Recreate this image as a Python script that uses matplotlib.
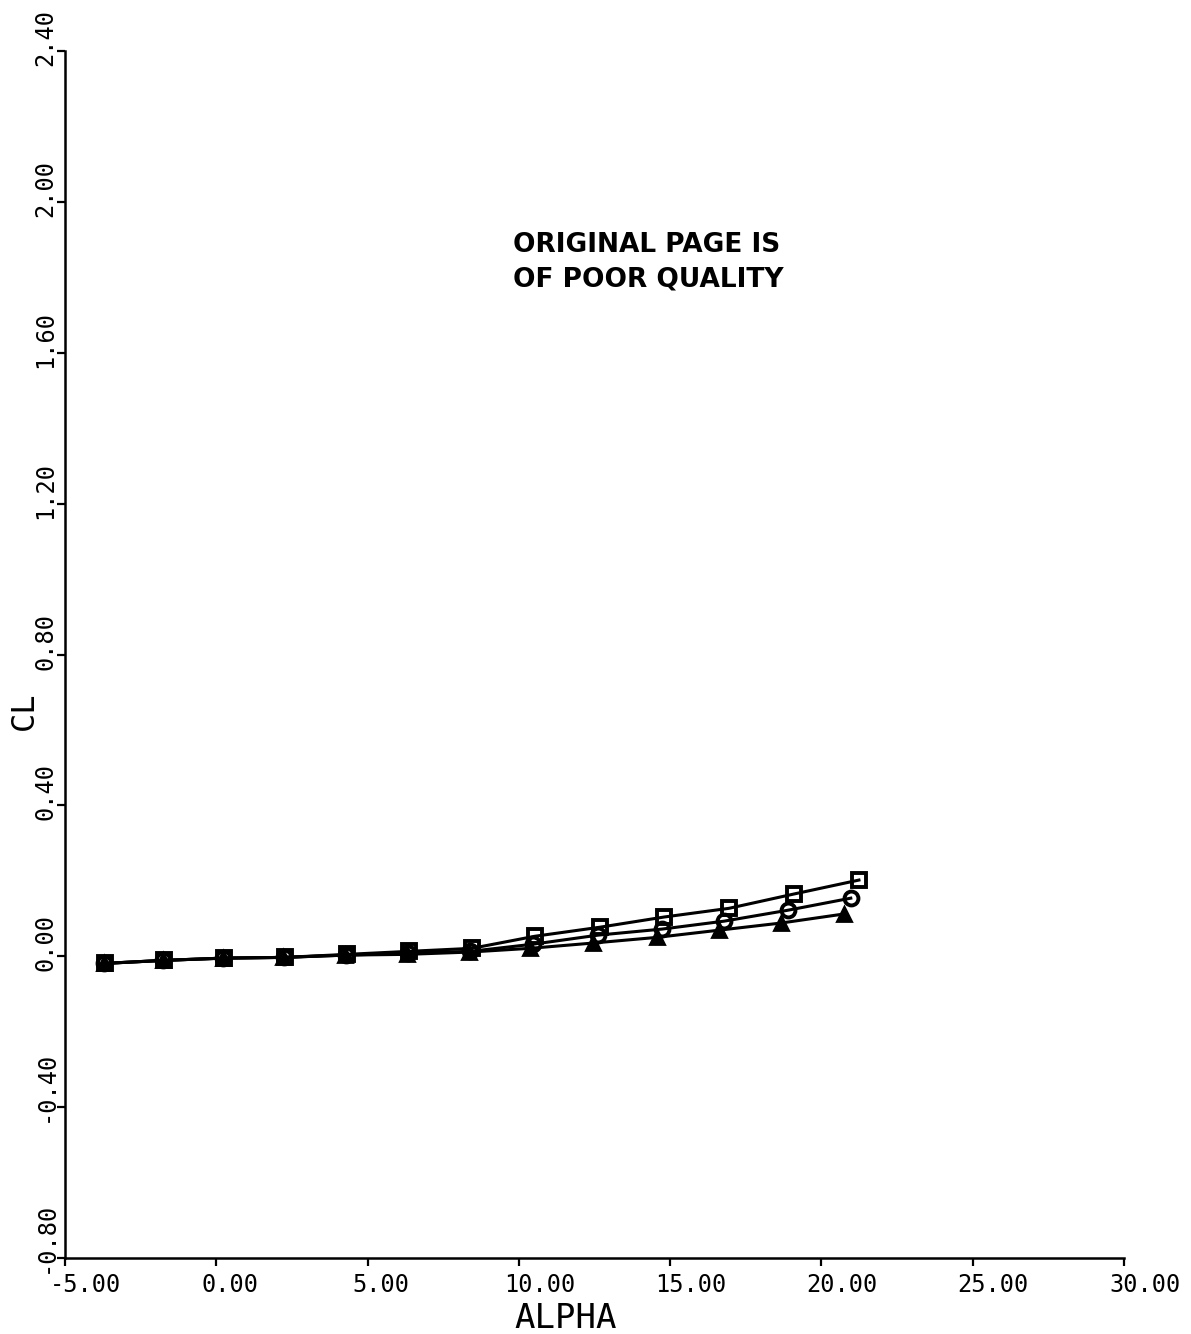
import matplotlib
matplotlib.use("Agg")
import matplotlib.pyplot as plt
from matplotlib.transforms import ScaledTranslation

# ---- data ----
alpha_sq = [-3.68, -1.73, 0.25, 2.27, 4.32, 6.37, 8.45, 10.53, 12.68, 14.80, 16.94, 19.09, 21.24]
cl_sq    = [-0.019, -0.011, -0.005, -0.003, 0.005, 0.013, 0.021, 0.053, 0.077, 0.104, 0.127, 0.165, 0.202]

alpha_ci = [-3.70, -1.75, 0.23, 2.25, 4.30, 6.33, 8.40, 10.47, 12.62, 14.73, 16.78, 18.89, 20.97]
cl_ci    = [-0.019, -0.011, -0.005, -0.003, 0.003, 0.008, 0.013, 0.032, 0.056, 0.072, 0.093, 0.122, 0.154]

alpha_tr = [-3.72, -1.77, 0.21, 2.22, 4.27, 6.30, 8.35, 10.37, 12.45, 14.56, 16.60, 18.66, 20.74]
cl_tr    = [-0.019, -0.011, -0.005, -0.003, 0.003, 0.005, 0.011, 0.021, 0.035, 0.050, 0.069, 0.088, 0.112]

xticks = [-5, 0, 5, 10, 15, 20, 25, 30]
xticklabels = ["-5.00", "0.00", "5.00", "10.00", "15.00", "20.00", "25.00", "30.00"]
yticks = [-0.8, -0.4, 0.0, 0.4, 0.8, 1.2, 1.6, 2.0, 2.4]
yticklabels = ["-0.80", "-0.40", "0.00", "0.40", "0.80", "1.20", "1.60", "2.00", "2.40"]

W, H = 1191, 1334
fig = plt.figure(figsize=(W / 100, H / 100), dpi=100)
left_px, right_px = 65, 1124
top_px, bot_px = 51, 1258
ax = fig.add_axes([left_px / W, 1 - bot_px / H, (right_px - left_px) / W, (bot_px - top_px) / H])

mono = "DejaVu Sans Mono"
lw = 2.2
ax.plot(alpha_tr, cl_tr, color="black", lw=lw, marker="^", ms=9.5, mfc="black", mec="black", mew=2)
ax.plot(alpha_ci, cl_ci, color="black", lw=lw, marker="o", ms=10, mfc="none", mec="black", mew=2.8)
ax.plot(alpha_sq, cl_sq, color="black", lw=lw, marker="s", ms=10, mfc="none", mec="black", mew=2.8)

ax.set_xlim(-5, 30)
ax.set_ylim(-0.8, 2.4)
for s in ["top", "right"]:
    ax.spines[s].set_visible(False)
for s in ["left", "bottom"]:
    ax.spines[s].set_linewidth(1.8)

ax.set_xticks(xticks)
ax.set_xticklabels(xticklabels, fontsize=17, family=mono, ha="left")
ax.set_yticks(yticks)
ax.set_yticklabels(yticklabels, fontsize=17, family=mono, rotation=90,
                   rotation_mode="anchor", ha="left", va="baseline")
ax.tick_params(axis="x", direction="out", length=6, width=1.6, pad=5)
ax.tick_params(axis="y", direction="out", length=6, width=1.6, pad=3)

offx = ScaledTranslation(-0.15, 0, fig.dpi_scale_trans)
for lab in ax.get_xticklabels():
    lab.set_transform(lab.get_transform() + offx)
offy = ScaledTranslation(0, -0.15, fig.dpi_scale_trans)
for lab in ax.get_yticklabels():
    lab.set_transform(lab.get_transform() + offy)

fig.text(566 / W, 1 - 1328 / H, "ALPHA", family=mono, fontsize=24.5,
         ha="center", va="baseline")
fig.text(33 / W, 1 - 711 / H, "CL", family=mono, fontsize=23, rotation=90,
         rotation_mode="anchor", ha="center", va="baseline")

fig.text(513 / W, 1 - 252 / H, "ORIGINAL PAGE IS", family="DejaVu Sans",
         fontweight="bold", fontsize=19, ha="left", va="baseline")
fig.text(513 / W, 1 - 287 / H, "OF POOR QUALITY", family="DejaVu Sans",
         fontweight="bold", fontsize=19, ha="left", va="baseline")

fig.savefig("out.png", dpi=100)
